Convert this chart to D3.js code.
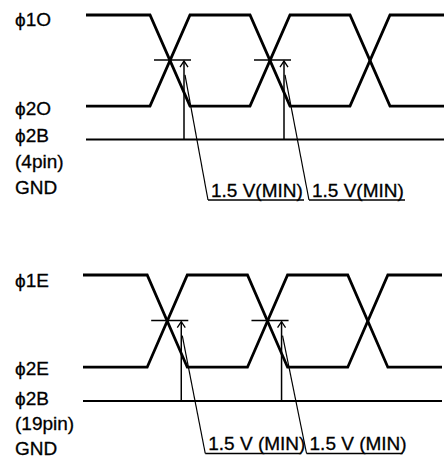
<!DOCTYPE html>
<html>
<head>
<meta charset="utf-8">
<script src="https://cdn.jsdelivr.net/npm/d3@7"></script>
<style>
html,body{margin:0;padding:0;background:#fff;}
svg{display:block;}
text{font-family:"Liberation Sans",Arial,Helvetica,sans-serif;font-size:19px;fill:#000;stroke:#000;stroke-width:0.3px;}
</style>
</head>
<body>
<script>
// ---- data ----
// time in half-periods; edges start at t = 0, 1, 2 and last 0.4
const edgeTimes = [0, 1, 2];
const edgeDuration = 0.4;
const timeRange = [-0.64, 2.94];
// voltage levels (V)
const levelHigh = 2.35;
const levelLow = 0.63;
const levelGnd = 0;
const thresholdV = 1.5;
// phi1 waveform: [time, volts]
const phi1Wave = [[-0.64, 2.35], [0, 2.35], [0.4, 0.63], [1, 0.63], [1.4, 2.35], [2, 2.35], [2.4, 0.63], [2.94, 0.63]];
// phi2 waveform: [time, volts]
const phi2Wave = [[-0.64, 0.63], [0, 0.63], [0.4, 2.35], [1, 2.35], [1.4, 0.63], [2, 0.63], [2.4, 2.35], [2.94, 2.35]];
// threshold markers at first two edges
const markerEdges = [0, 1];
const topLabels = ["\u03D51O", "\u03D52O", "\u03D52B", "(4pin)", "GND"];
const bottomLabels = ["\u03D51E", "\u03D52E", "\u03D52B", "(19pin)", "GND"];
const topNote = "1.5 V(MIN)";
const bottomNote = "1.5 V (MIN)";

// ---- drawing ----
const W = 444, H = 464;
const svg = d3.select("body").append("svg").attr("width", W).attr("height", H);

const panels = [
  {labels: topLabels, note: topNote, xr: [86, 444], yr: [139.5, 15], labOff: [11, 9, 2.5], gap: 26, noteBase: 196.5},
  {labels: bottomLabels, note: bottomNote, xr: [83, 442], yr: [401, 275], labOff: [12, 8, 4], gap: 25, noteBase: 450}
];

panels.forEach(p => {
  const x = d3.scaleLinear().domain(timeRange).range(p.xr);
  const y = d3.scaleLinear().domain([levelGnd, levelHigh]).range(p.yr);
  const g = svg.append("g");
  const line = d3.line().x(d => x(d[0])).y(d => y(d[1])).curve(d3.curveLinear);

  [phi1Wave, phi2Wave].forEach(w => {
    g.append("path").attr("d", line(w)).attr("fill", "none")
      .attr("stroke", "#000").attr("stroke-width", 2.8).attr("stroke-linejoin", "miter");
  });
  // GND line
  g.append("line").attr("x1", x(timeRange[0])).attr("x2", x(timeRange[1]))
    .attr("y1", y(levelGnd)).attr("y2", y(levelGnd))
    .attr("stroke", "#000").attr("stroke-width", 2.2);

  const noteW = 96;
  markerEdges.forEach((e, i) => {
    const ty = y(thresholdV);
    // threshold line
    g.append("line").attr("x1", x(e + 0.04)).attr("x2", x(e + 0.41))
      .attr("y1", ty).attr("y2", ty).attr("stroke", "#000").attr("stroke-width", 1.4);
    // arrow
    const ax = x(e + 0.34);
    g.append("line").attr("x1", ax).attr("x2", ax).attr("y1", y(levelGnd)).attr("y2", ty + 1)
      .attr("stroke", "#000").attr("stroke-width", 1.5);
    g.append("path").attr("d", `M${ax - 4},${ty + 7} L${ax},${ty + 1} L${ax + 4},${ty + 7}`)
      .attr("fill", "none").attr("stroke", "#000").attr("stroke-width", 1.3);
    // leader
    const lx0 = ax + 1, ly0 = y(1.22);
    const lx1 = ax + 24 + i * 1, ly1 = p.noteBase + 3.5;
    g.append("line").attr("x1", lx0).attr("y1", ly0).attr("x2", lx1).attr("y2", ly1)
      .attr("stroke", "#000").attr("stroke-width", 1.2);
    g.append("line").attr("x1", lx1).attr("x2", lx1 + noteW).attr("y1", ly1).attr("y2", ly1)
      .attr("stroke", "#000").attr("stroke-width", 1.4);
    g.append("text").attr("x", lx1 + 3).attr("y", p.noteBase).text(p.note);
  });

  // signal labels
  const baseY = [y(levelHigh) + p.labOff[0], y(levelLow) + p.labOff[1], y(levelGnd) + p.labOff[2]];
  baseY.push(baseY[2] + p.gap, baseY[2] + 2 * p.gap);
  g.selectAll("text.lab").data(p.labels).enter().append("text")
    .attr("class", "lab").attr("x", 15).attr("y", (d, i) => baseY[i]).text(d => d);
});
</script>
</body>
</html>
